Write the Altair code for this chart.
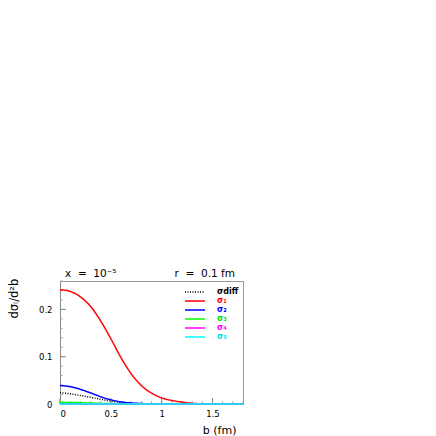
import altair as alt
import pandas as pd

b_grid = [0.0, 0.1, 0.2, 0.3, 0.4, 0.5, 0.6, 0.7, 0.8, 0.9, 1.0, 1.1, 1.2, 1.3, 1.4, 1.5, 1.6, 1.7, 1.8]

sig_diff = [0.024, 0.0215, 0.018, 0.014, 0.010, 0.006, 0.0032, 0.0015, 0.0006, 0.0002, 0.0, 0.0, 0.0, 0.0, 0.0, 0.0, 0.0, 0.0, 0.0]
sig_1 = [0.2415, 0.238, 0.2265, 0.2065, 0.1755, 0.138, 0.098, 0.064, 0.039, 0.023, 0.013, 0.0075, 0.004, 0.0015, 0.0005, 0.0002, 0.0, 0.0, 0.0]
sig_2 = [0.039, 0.0367, 0.031, 0.0235, 0.0154, 0.0088, 0.0045, 0.0022, 0.001, 0.0004, 0.0001, 0.0, 0.0, 0.0, 0.0, 0.0, 0.0, 0.0, 0.0]
sig_3 = [0.0035, 0.0033, 0.0028, 0.002, 0.0013, 0.0007, 0.0003, 0.0001, 0.0, 0.0, 0.0, 0.0, 0.0, 0.0, 0.0, 0.0, 0.0, 0.0, 0.0]
sig_4 = [0.0004, 0.0003, 0.0002, 0.0001, 0.0, 0.0, 0.0, 0.0, 0.0, 0.0, 0.0, 0.0, 0.0, 0.0, 0.0, 0.0, 0.0, 0.0, 0.0]
sig_5 = [0.0] * len(b_grid)

series_names = ["σdiff", "σ₁", "σ₂", "σ₃", "σ₄", "σ₅"]
series_colors = ["#000000", "#ff0000", "#0000ff", "#00ff00", "#ff00ff", "#00ffff"]
series_dashes = [[1, 1.5], [1, 0], [1, 0], [1, 0], [1, 0], [1, 0]]
series_values = [sig_diff, sig_1, sig_2, sig_3, sig_4, sig_5]

y_major = [0.0, 0.1, 0.2]
y_minor = [round(0.02 * i, 2) for i in range(14)]
x_major = [0.0, 0.5, 1.0, 1.5]
x_minor = [round(0.1 * i, 1) for i in range(19)]

top_left_text = "x\u00a0\u00a0=\u00a0\u00a010⁻⁵"
top_right_text = "r\u00a0\u00a0=\u00a0\u00a00.1\u00a0fm"

rows = []
for name, vals in zip(series_names, series_values):
    for b, v in zip(b_grid, vals):
        rows.append({"b": b, "v": v, "s": name})
df = pd.DataFrame(rows)

FONT = "DejaVu Sans"
xscale = alt.Scale(domain=[0, 1.8], nice=False, zero=False)
yscale = alt.Scale(domain=[0, 0.26], nice=False)

color_expr = ("datum.value == 'σdiff' ? '#000000' : datum.value == 'σ₁' ? '#ff0000' : "
              "datum.value == 'σ₂' ? '#0000ff' : datum.value == 'σ₃' ? '#00dd00' : "
              "datum.value == 'σ₄' ? '#ff00ff' : '#00e5e5'")


def make_legend():
    return alt.Legend(title=None, orient="none", legendX=130, legendY=6,
                      symbolType="M-2.5,0L2.5,0", symbolSize=64,
                      symbolStrokeWidth=1.5, symbolFillColor="transparent",
                      labelFont=FONT, labelFontSize=8, labelFontWeight="bold",
                      labelOffset=17, rowPadding=-0.8,
                      labelColor=alt.ExprRef(color_expr))


lines = alt.Chart(df).mark_line(strokeWidth=1.5, interpolate="monotone").encode(
    x=alt.X("b:Q", scale=xscale,
            axis=alt.Axis(values=x_major, format="~g", ticks=False, grid=False,
                          labelFont=FONT, labelFontSize=8.5, labelPadding=5,
                          domainColor="#888", labelColor="black",
                          title="b (fm)", titleFont=FONT, titleFontSize=11,
                          titleFontWeight="normal", titleAnchor="end",
                          titleAlign="right", titleX=176, titleY=29,
                          titleBaseline="alphabetic")),
    y=alt.Y("v:Q", scale=yscale,
            axis=alt.Axis(values=y_major, format="~g", ticks=False, grid=False,
                          labelFont=FONT, labelFontSize=8.5, labelPadding=8,
                          domainColor="#888", labelColor="black",
                          title="dσᵢ/d²b", titleFont=FONT, titleFontSize=11.5,
                          titleFontWeight="normal", titleAngle=-90,
                          titleAlign="left", titleBaseline="alphabetic",
                          titleX=-43, titleY=37)),
    color=alt.Color("s:N", scale=alt.Scale(domain=series_names, range=series_colors),
                    legend=make_legend()),
    strokeDash=alt.StrokeDash("s:N", scale=alt.Scale(domain=series_names, range=series_dashes),
                              legend=make_legend()),
    order=alt.Order("s:N"),
)

ymaj = alt.Chart(pd.DataFrame({"t": y_major})).mark_rule(color="#888").encode(
    y=alt.Y("t:Q", scale=yscale), x=alt.value(0), x2=alt.value(6))
ymin = alt.Chart(pd.DataFrame({"t": y_minor})).mark_rule(color="#aaa").encode(
    y=alt.Y("t:Q", scale=yscale), x=alt.value(0), x2=alt.value(3))
xmaj = alt.Chart(pd.DataFrame({"t": x_major})).mark_rule(color="#888").encode(
    x=alt.X("t:Q", scale=xscale), y=alt.value(123), y2=alt.value(117))
xmin = alt.Chart(pd.DataFrame({"t": x_minor})).mark_rule(color="#aaa").encode(
    x=alt.X("t:Q", scale=xscale), y=alt.value(123), y2=alt.value(120))

lab_left = alt.Chart(pd.DataFrame({"t": [top_left_text]})).mark_text(
    font=FONT, fontSize=10.5, align="left", baseline="alphabetic").encode(
    text="t:N", x=alt.value(5), y=alt.value(-4))
lab_right = alt.Chart(pd.DataFrame({"t": [top_right_text]})).mark_text(
    font=FONT, fontSize=10.5, align="right", baseline="alphabetic").encode(
    text="t:N", x=alt.value(175), y=alt.value(-4))

chart = alt.layer(ymin, ymaj, xmin, xmaj, lines, lab_left, lab_right).properties(
    width=183, height=123,
    autosize=alt.AutoSizeParams(type="none"),
    padding={"left": 52, "top": 273, "right": 20, "bottom": 35},
).configure_view(stroke="#999", strokeWidth=1).resolve_scale(
    x="shared", y="shared"
)

chart.save("out.html", embed_options={"renderer": "svg", "actions": False})
